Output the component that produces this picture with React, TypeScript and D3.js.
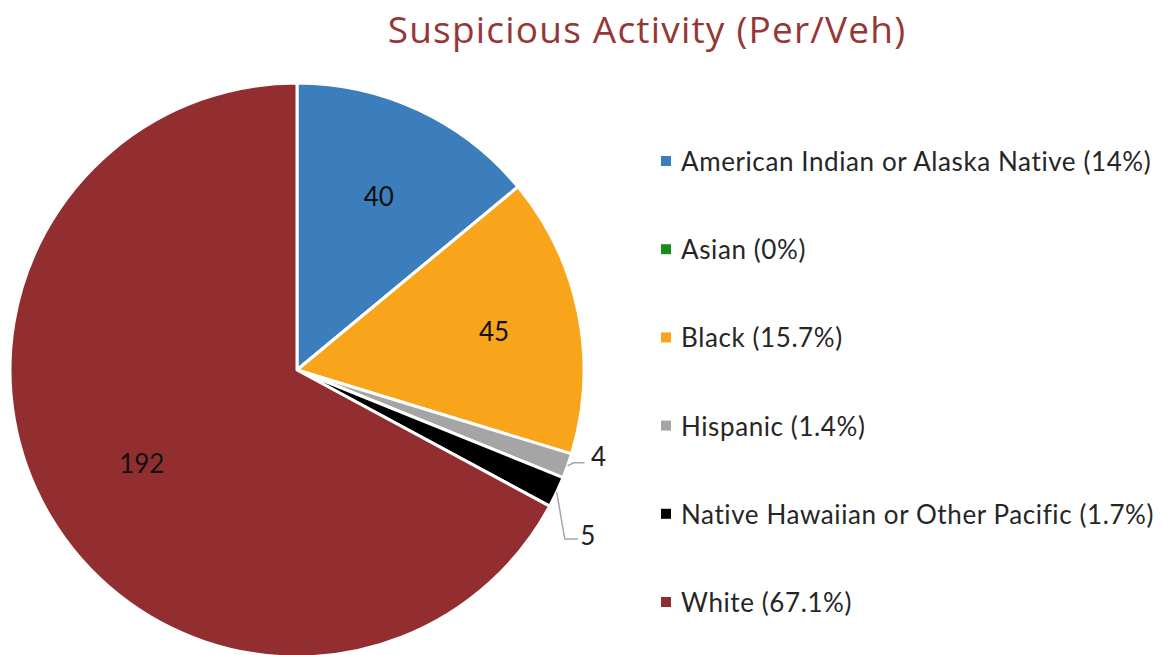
import * as d3 from "d3"

const categories = [
  "American Indian or Alaska Native",
  "Asian",
  "Black",
  "Hispanic",
  "Native Hawaiian or Other Pacific",
  "White",
]
const counts = [40, 0, 45, 4, 5, 192]
const percentLabels = ["14%", "0%", "15.7%", "1.4%", "1.7%", "67.1%"]
const colors = ["#3c7ebb", "#1a8a1a", "#f8a51c", "#a5a5a5", "#000000", "#922e2f"]

const WIDTH = 1162
const HEIGHT = 655
const FONT = "Lato, 'Open Sans', sans-serif"

const App = () => {
  const cx = 297
  const cy = 370
  const radius = 287

  const pie = d3
    .pie<number>()
    .sort(null)
    .value((d) => d)
  const arcs = pie(counts)

  const arc = d3.arc<d3.PieArcDatum<number>>().innerRadius(0).outerRadius(radius)
  const edgeArc = d3
    .arc<d3.PieArcDatum<number>>()
    .innerRadius(radius)
    .outerRadius(radius)
  // label distance from centre, as a share of the radius
  const labelRadius = [0.67, 0.7, 0.7, 0.7, 0.7, 0.63]

  // small slices get labels outside with a leader line
  const outside: Record<number, { elbow: [number, number]; end: [number, number]; text: [number, number] }> = {
    3: { elbow: [6, -3], end: [17, -3], text: [31, -10] },
    4: { elbow: [8, 47], end: [21, 47], text: [31, 43] },
  }

  const legend = d3
    .scalePoint<string>()
    .domain(categories)
    .range([161, 602])

  return (
    <svg width={WIDTH} height={HEIGHT} style={{ display: "block", position: "absolute", left: 0, top: 0 }}>
      <rect width={WIDTH} height={HEIGHT} fill="#ffffff" />
      <text
        x={647}
        y={43}
        textAnchor="middle"
        fontFamily="'Open Sans', Lato, sans-serif"
        fontSize={37}
        letterSpacing={1.2}
        fill="#953735"
      >
        Suspicious Activity (Per/Veh)
      </text>

      <g transform={`translate(${cx},${cy})`}>
        {arcs.map((a, i) => (
          <path key={i} d={arc(a) ?? ""} fill={colors[i]} stroke="#ffffff" strokeWidth={3} strokeLinejoin="round" />
        ))}
        {arcs.map((a, i) => {
          if (a.data === 0) return null
          const o = outside[i]
          if (o) {
            const [ex, ey] = edgeArc.centroid(a)
            const pts: [number, number][] = [
              [ex, ey],
              [ex + o.elbow[0], ey + o.elbow[1]],
              [ex + o.end[0], ey + o.end[1]],
            ]
            return (
              <g key={i}>
                <path d={d3.line()(pts) ?? ""} fill="none" stroke="#a6a6a6" strokeWidth={1.5} />
                <text
                  x={ex + o.text[0]}
                  y={ey + o.text[1]}
                  textAnchor="middle"
                  dominantBaseline="central"
                  fontFamily={FONT}
                  fontSize={26}
                  fill="#222222"
                >
                  {a.data}
                </text>
              </g>
            )
          }
          const r = radius * labelRadius[i]
          const [lx, ly] = d3.arc<d3.PieArcDatum<number>>().innerRadius(r).outerRadius(r).centroid(a)
          return (
            <text
              key={i}
              x={lx}
              y={ly}
              textAnchor="middle"
              dominantBaseline="central"
              fontFamily={FONT}
              fontSize={26}
              fill="#111111"
            >
              {a.data}
            </text>
          )
        })}
      </g>

      {categories.map((c, i) => {
        const y = legend(c) ?? 0
        return (
          <g key={c}>
            <rect x={661} y={y - 5} width={10} height={10} fill={colors[i]} />
            <text
              x={681}
              y={y}
              dominantBaseline="central"
              fontFamily={FONT}
              fontSize={26}
              letterSpacing={0.6}
              fill="#262626"
            >
              {`${c} (${percentLabels[i]})`}
            </text>
          </g>
        )
      })}
    </svg>
  )
}

export default App
